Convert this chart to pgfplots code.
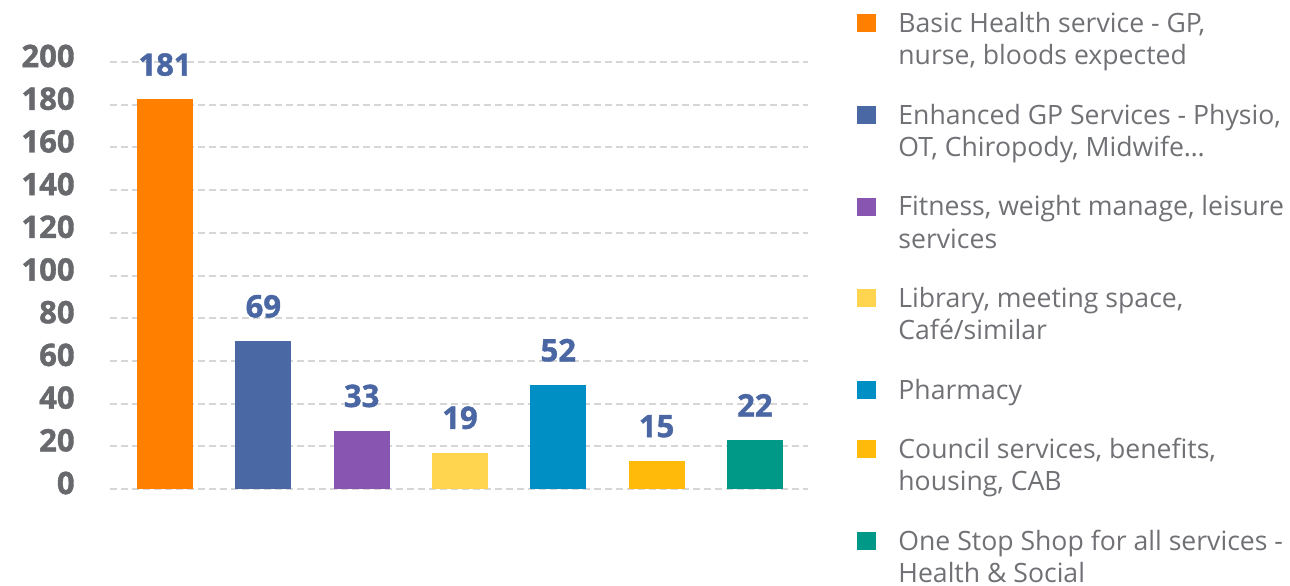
\documentclass[border=0pt]{standalone}
\usepackage{fontspec}
\setmainfont{Open Sans}
\newfontfamily\heavyfont[FakeBold=1.3]{Open Sans Bold}
\usepackage{pgfplots}
\pgfplotsset{compat=1.18}
\definecolor{cOrange}{HTML}{FF7F00}
\definecolor{cBlue}{HTML}{4A69A4}
\definecolor{cPurple}{HTML}{8856B1}
\definecolor{cYellow}{HTML}{FFD54F}
\definecolor{cPharm}{HTML}{008FC5}
\definecolor{cCouncil}{HTML}{FFBA0A}
\definecolor{cTeal}{HTML}{009886}
\definecolor{labelblue}{HTML}{4A67A3}
\definecolor{tickgray}{HTML}{68696C}
\definecolor{legendgray}{HTML}{707175}
\definecolor{gridgray}{HTML}{D6D6D6}
\newcommand\lgent[1]{\begin{tabular}[t]{@{}l@{}}#1\end{tabular}}
\pgfplotsset{sqlegend/.style={legend image code/.code={\fill[#1] (0pt,0pt) rectangle (9.5pt,9pt);}}}
\begin{document}
\begin{tikzpicture}
\path[use as bounding box] (0pt,0pt) rectangle (645pt,-292.5pt);
\begin{axis}[
  at={(55pt,-244.5pt)}, anchor=south west,
  scale only axis, width=349pt, height=213.5pt,
  xmin=-0.56, xmax=6.54, ymin=0, ymax=200,
  ytick={0,20,...,200}, xtick=\empty,
  axis line style={draw=none}, tick style={draw=none}, major tick length=0pt,
  ymajorgrids, grid style={draw=gridgray, line width=1pt, dash pattern=on 3.5pt off 2pt},
  clip=false,
  /pgf/number format/assume math mode=true,
  yticklabel style={font=\heavyfont\fontsize{15.5}{18}\selectfont, text=tickgray, anchor=east, inner sep=0pt, xshift=-17.5pt, yshift=3pt},
  every node near coord/.append style={font=\heavyfont\fontsize{15.5}{18}\selectfont, text=labelblue, anchor=south, inner sep=0pt, yshift=11.5pt},
  legend cell align=left,
  legend style={draw=none, fill=none, inner sep=0pt, at={(1.0702,1.1237)}, anchor=north west,
    row sep=13.35pt, column sep=11pt,
    font=\color{legendgray}\fontsize{13.3}{16.25}\selectfont,
    nodes={inner sep=0pt, text depth={}},
    cells={anchor=base west}},
]
\addplot[ybar, sqlegend=cOrange, bar width=28pt, fill=cOrange, draw=none, nodes near coords={181}] coordinates {(0,182.5)};
\addlegendentry{\lgent{Basic Health service - GP,\\nurse, bloods expected}}
\addplot[ybar, sqlegend=cBlue, bar width=28pt, fill=cBlue, draw=none, nodes near coords={69}] coordinates {(1,69.3)};
\addlegendentry{\lgent{Enhanced GP Services - Physio,\\OT, Chiropody, Midwife…}}
\addplot[ybar, sqlegend=cPurple, bar width=28pt, fill=cPurple, draw=none, nodes near coords={33}] coordinates {(2,27.3)};
\addlegendentry{\lgent{Fitness, weight manage, leisure\\services}}
\addplot[ybar, sqlegend=cYellow, bar width=28pt, fill=cYellow, draw=none, nodes near coords={19}] coordinates {(3,17.1)};
\addlegendentry{\lgent{Library, meeting space,\\Café/similar}}
\addplot[ybar, sqlegend=cPharm, bar width=28pt, fill=cPharm, draw=none, nodes near coords={52}] coordinates {(4,48.7)};
\addlegendentry{\lgent{Pharmacy}}
\addplot[ybar, sqlegend=cCouncil, bar width=28pt, fill=cCouncil, draw=none, nodes near coords={15}] coordinates {(5,13.2)};
\addlegendentry{\lgent{Council services, benefits,\\housing, CAB}}
\addplot[ybar, sqlegend=cTeal, bar width=28pt, fill=cTeal, draw=none, nodes near coords={22}] coordinates {(6,23.0)};
\addlegendentry{\lgent{One Stop Shop for all services -\\Health \& Social}}
\end{axis}
\end{tikzpicture}
\end{document}
